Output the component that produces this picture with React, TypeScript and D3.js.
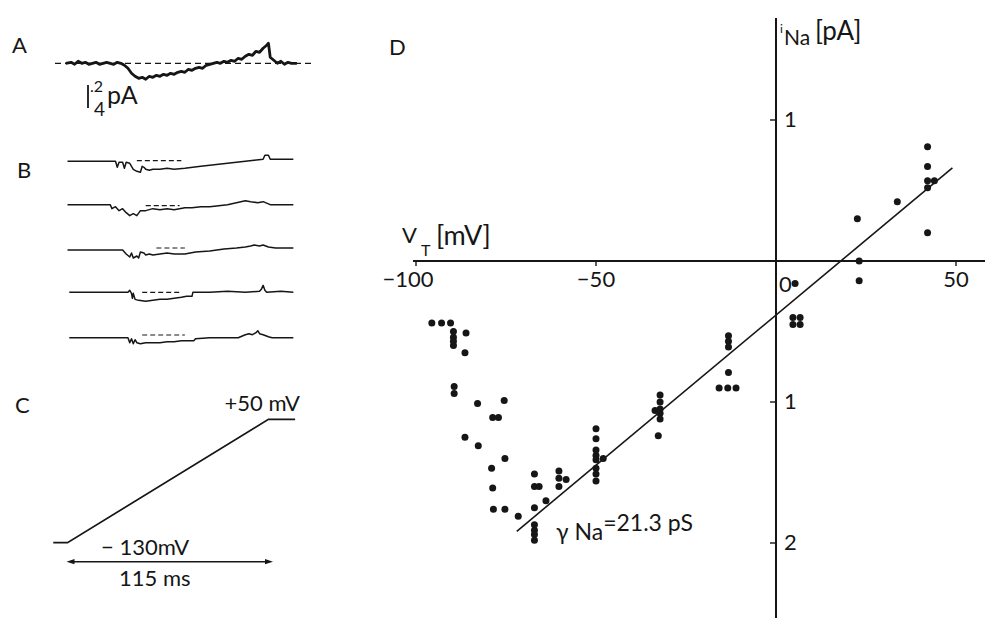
import React from "react";
import * as d3 from "d3";

const FONT = "Lato, 'Open Sans', sans-serif";
const INK = "#161616";

// A: single channel record during the ramp, [t ms, i pA]
const traceA: [number, number][] = [
  [-1, 0], [2, 0.01], [4, -0.01], [6, 0.02], [8, 0], [10, 0.01], [12, -0.01], [14, 0],
  [16, 0.01], [18, -0.01], [20, 0], [22, 0.01], [24, 0], [26, -0.01], [28, 0.01], [30, 0],
  [32, -0.02], [34, -0.05], [36, -0.1], [38, -0.13], [40, -0.15], [42, -0.14], [44, -0.16],
  [46, -0.13], [48, -0.14], [50, -0.12], [52, -0.13], [54, -0.11], [56, -0.12], [58, -0.1],
  [60, -0.11], [62, -0.09], [64, -0.08], [66, -0.09], [68, -0.06], [70, -0.07], [72, -0.05],
  [74, -0.04], [76, -0.05], [78, -0.02], [80, -0.01], [82, 0], [84, 0.01], [86, 0],
  [88, 0.02], [90, 0.01], [92, 0.03], [94, 0.02], [96, 0.05], [98, 0.04], [100, 0.07],
  [102, 0.09], [104, 0.08], [106, 0.12], [108, 0.11], [110, 0.15], [112, 0.18], [113, 0.2],
  [114, 0.06], [116, 0.03], [118, 0], [120, 0.02], [122, -0.01], [124, 0.01], [126, 0], [129, 0],
];

// B: five consecutive records
const traceB1: [number, number][] = [
  [0, -0.02], [27, -0.02], [28, -0.08], [29, -0.03], [31, -0.03], [32, -0.09], [33, -0.03],
  [35, -0.04], [37, -0.1], [39, -0.12], [41, -0.13], [42, -0.07], [43, -0.08], [44, -0.1],
  [46, -0.11], [48, -0.1], [52, -0.1], [56, -0.09], [60, -0.1], [66, -0.09], [75, -0.07],
  [85, -0.05], [95, -0.03], [105, -0.01], [110, 0], [111, 0.04], [113, 0.04], [114, 0], [127, 0],
];
const traceB2: [number, number][] = [
  [0, -0.01], [24, -0.01], [25, -0.05], [27, -0.03], [29, -0.07], [31, -0.05], [33, -0.09],
  [35, -0.12], [37, -0.1], [39, -0.12], [41, -0.07], [44, -0.07], [48, -0.05], [52, -0.06],
  [56, -0.05], [60, -0.06], [63, -0.05], [66, -0.04], [70, -0.04], [75, -0.03], [80, -0.03],
  [85, -0.02], [90, -0.01], [95, 0.01], [100, 0.03], [103, 0.02], [107, 0.01], [110, 0.02],
  [114, -0.01], [120, -0.01], [127, -0.01],
];
const traceB3: [number, number][] = [
  [0, -0.02], [31, -0.02], [33, -0.06], [35, -0.09], [36, -0.05], [37, -0.1], [39, -0.08],
  [40, -0.1], [41, -0.04], [43, -0.05], [44, -0.07], [46, -0.06], [48, -0.07], [52, -0.06],
  [56, -0.05], [60, -0.06], [66, -0.06], [72, -0.04], [80, -0.03], [88, -0.01], [95, 0],
  [100, 0.01], [103, 0.02], [105, 0.03], [108, 0.02], [110, 0.03], [113, 0.01], [117, 0], [127, 0],
];
const traceB4: [number, number][] = [
  [1, 0], [34, 0], [35, 0.02], [36, -0.01], [36.5, -0.06], [37, -0.01], [38, -0.07],
  [40, -0.08], [44, -0.09], [48, -0.08], [52, -0.07], [56, -0.07], [60, -0.06], [64, -0.05],
  [67, -0.04], [70, -0.04], [70.5, 0], [80, 0], [90, 0.01], [100, 0], [108, 0.01], [109, 0.03],
  [110, 0.07], [111, 0.02], [112, 0], [120, 0.01], [127, 0],
];
const traceB5: [number, number][] = [
  [1, -0.01], [34, -0.01], [35, -0.06], [36, -0.02], [37, -0.07], [38, -0.03], [39, -0.06],
  [41, -0.07], [44, -0.06], [48, -0.06], [52, -0.06], [56, -0.05], [60, -0.05], [64, -0.04],
  [68, -0.04], [71, -0.04], [72, -0.02], [80, -0.01], [90, -0.01], [96, -0.01], [100, 0.02],
  [102, 0.03], [104, 0.02], [106, 0.04], [107, 0.06], [108, 0.03], [110, 0.02], [113, 0],
  [115, -0.01], [127, -0.01],
];
const tracesB = [traceB1, traceB2, traceB3, traceB4, traceB5];
// dashed open-level marks: [t start, t end, level pA]
const dashesB: [number, number, number][] = [
  [39, 64, -0.013], [44, 63, -0.02], [50, 66, 0], [42, 63, 0], [42, 66, 0.017],
];

// C: voltage ramp
const rampT = [-8, 0, 113, 128];
const rampV = [-130, -130, 50, 50];

// D: single channel current vs test potential
const dotV = [
  -95.6, -92.9, -90.4, -89.6, -89.6, -89.6, -89.6, -86.1, -86.4, -89.4, -89.4, -82.9, -75.5,
  -78.7, -77.1, -86.4, -82.7, -75.3, -79.0, -78.7, -78.5, -75.3, -71.6, -67.1, -67.1, -65.8,
  -67.1, -67.1, -67.1, -67.1, -67.1, -63.9, -60.3, -60.3, -60.3, -58.3,
  -50, -50, -50, -50, -50, -50, -50, -50, -48,
  -32.2, -32.2, -32.2, -32.2, -32.2, -33.6, -32.7,
  -13.2, -13.2, -13.2, -13.2, -15.8, -13.4, -11.1,
  4.7, 6.7, 4.7, 6.7, 5.3,
  22.6, 23.1, 23.1, 33.7, 42.1, 42.1, 42.1, 42.1, 42.1, 44.0,
];
const dotI = [
  -0.44, -0.44, -0.44, -0.5, -0.54, -0.57, -0.6, -0.51, -0.65, -0.89, -0.94, -1.01, -0.99,
  -1.11, -1.11, -1.25, -1.31, -1.4, -1.47, -1.61, -1.76, -1.76, -1.81, -1.51, -1.6, -1.6,
  -1.75, -1.87, -1.91, -1.94, -1.98, -1.7, -1.49, -1.54, -1.6, -1.55,
  -1.19, -1.26, -1.34, -1.38, -1.41, -1.47, -1.51, -1.56, -1.4,
  -0.95, -1.0, -1.05, -1.08, -1.12, -1.06, -1.24,
  -0.53, -0.57, -0.61, -0.79, -0.9, -0.9, -0.9,
  -0.4, -0.4, -0.45, -0.45, -0.16,
  0.3, 0.0, -0.14, 0.42, 0.81, 0.67, 0.57, 0.52, 0.2, 0.57,
];
const xTicks = [-100, -50, 50];
const yTicks = [1, -1, -2];
const gammaNa = 0.0213; // pA/mV
const vRev = 18;
const fitRange = [-72, 49];

const App = () => {
  const xT = d3.scaleLinear().domain([0, 115]).range([67.5, 272]);
  const yA = d3.scaleLinear().domain([0, 0.1]).range([63.3, 53.3]);
  const yC = d3.scaleLinear().domain([-130, 50]).range([542.7, 419.3]);
  const xD = d3.scaleLinear().domain([-100, 50]).range([416, 956]);
  const yD = d3.scaleLinear().domain([0, -1]).range([261, 402]);

  const traceLine = (y: d3.ScaleLinear<number, number>) =>
    d3.line<[number, number]>().x((d) => xT(d[0])).y((d) => y(d[1]));

  const baseB = (k: number) => 159.3 + k * 44.35;

  const ramp = d3.line<number>().x((d) => xT(rampT[d])).y((d) => yC(rampV[d]))(
    d3.range(rampT.length)
  );

  const arrowY = 561.7;
  const a0 = xT(0);
  const a1 = xT(115);

  return (
    <svg
      width={987}
      height={618}
      style={{ position: "absolute", left: 0, top: 0, background: "#fff" }}
      fontFamily={FONT}
      fill={INK}
    >
      {/* panel letters */}
      <text x={12} y={53} fontSize={22}>A</text>
      <text x={17} y={178} fontSize={22}>B</text>
      <text x={15} y={413} fontSize={22}>C</text>
      <text x={389} y={55} fontSize={22}>D</text>

      {/* A */}
      <line x1={55} x2={315} y1={yA(0)} y2={yA(0)} stroke={INK} strokeWidth={1.3} strokeDasharray="6,4" />
      <path d={traceLine(yA)(traceA) || ""} fill="none" stroke={INK} strokeWidth={2.8} strokeLinejoin="round" />
      <line x1={88} x2={88} y1={85} y2={108} stroke={INK} strokeWidth={1.8} />
      <text x={90} y={92} fontSize={16}>.2</text>
      <text x={94} y={116} fontSize={19}>4</text>
      <text x={107} y={104} fontSize={25}>pA</text>

      {/* B */}
      {tracesB.map((tr, k) => {
        const y = d3.scaleLinear().domain([0, 0.1]).range([baseB(k), baseB(k) - 10]);
        const [t0, t1, lv] = dashesB[k];
        return (
          <g key={k}>
            <path d={traceLine(y)(tr) || ""} fill="none" stroke={INK} strokeWidth={1.5} strokeLinejoin="round" />
            <line x1={xT(t0)} x2={xT(t1)} y1={y(lv)} y2={y(lv)} stroke={INK} strokeWidth={1.2} strokeDasharray="5,3" />
          </g>
        );
      })}

      {/* C */}
      <path d={ramp || ""} fill="none" stroke={INK} strokeWidth={1.7} />
      <text x={300} y={411} fontSize={22} textAnchor="end">+50 mV</text>
      <text x={101} y={555} fontSize={22}>− 130mV</text>
      <line x1={a0 + 4} x2={a1 - 4} y1={arrowY} y2={arrowY} stroke={INK} strokeWidth={1.4} />
      <polygon points={`${a0 - 1},${arrowY} ${a0 + 7},${arrowY - 2.6} ${a0 + 7},${arrowY + 2.6}`} />
      <polygon points={`${a1 + 1},${arrowY} ${a1 - 7},${arrowY - 2.6} ${a1 - 7},${arrowY + 2.6}`} />
      <text x={119} y={586} fontSize={22}>115 ms</text>

      {/* D axes */}
      <line x1={413} x2={985} y1={yD(0)} y2={yD(0)} stroke={INK} strokeWidth={2} />
      <line x1={xD(0)} x2={xD(0)} y1={18} y2={618} stroke={INK} strokeWidth={2} />
      {xTicks.map((v) => (
        <g key={v}>
          <line x1={xD(v)} x2={xD(v)} y1={yD(0)} y2={yD(0) + 5} stroke={INK} strokeWidth={1.4} />
          <text x={xD(v) - (v === -100 ? 8 : 0)} y={287} fontSize={22} textAnchor="middle">
            {v < 0 ? `−${Math.abs(v)}` : v}
          </text>
        </g>
      ))}
      <text x={779} y={292} fontSize={22}>0</text>
      {yTicks.map((v) => (
        <g key={v}>
          <line x1={xD(0) - 6} x2={xD(0)} y1={yD(v)} y2={yD(v)} stroke={INK} strokeWidth={1.4} />
          <text x={784} y={yD(v) + 7} fontSize={22}>{Math.abs(v)}</text>
        </g>
      ))}

      {/* axis titles */}
      <text x={402} y={243} fontSize={22}>V</text>
      <text x={421} y={256} fontSize={16}>T</text>
      <text x={436} y={245} fontSize={27}>[mV]</text>
      <text x={780} y={33} fontSize={12}>i</text>
      <text x={784} y={45} fontSize={21}>Na</text>
      <text x={815} y={40} fontSize={26}>[pA]</text>

      {/* fit */}
      <line
        x1={xD(fitRange[0])}
        x2={xD(fitRange[1])}
        y1={yD(gammaNa * (fitRange[0] - vRev))}
        y2={yD(gammaNa * (fitRange[1] - vRev))}
        stroke={INK}
        strokeWidth={1.6}
      />
      <text x={556} y={540} fontSize={23}>
        γ<tspan dx={6}>Na</tspan>
        <tspan dy={-9} fontSize={23}>=21.3 pS</tspan>
      </text>

      {/* dots */}
      {dotV.map((v, k) => (
        <circle key={k} cx={xD(v)} cy={yD(dotI[k])} r={3.5} />
      ))}
    </svg>
  );
};

export default App;
